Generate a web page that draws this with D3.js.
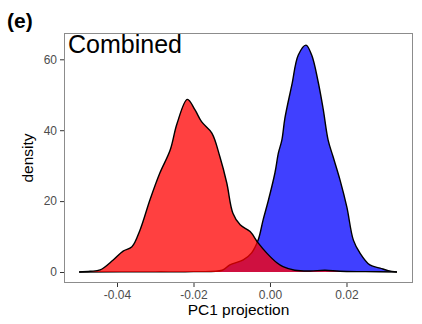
<!DOCTYPE html>
<html><head><meta charset="utf-8">
<script src="https://cdn.jsdelivr.net/npm/d3@7"></script>
<style>body{margin:0;background:#fff}svg{display:block}text{font-family:"Liberation Sans",Arial,sans-serif}</style>
</head><body>
<script>
const redX = [-0.0499,-0.047,-0.0444,-0.041,-0.0384,-0.0361,-0.034,-0.0314,-0.0288,-0.0261,-0.0243,-0.0216,-0.0196,-0.0179,-0.0152,-0.0131,-0.0113,-0.0097,-0.0078,-0.0052,-0.0031,-0.0009,0.0018,0.0034,0.0065,0.0105,0.0144,0.0183,0.025,0.0332];
const redY = [0,0.2,0.6,3.4,5.9,7.1,11.8,20.3,27.9,34.4,41.9,48.7,45.7,42.4,39.2,32.5,25.1,16.6,13.3,11.4,8.2,5.4,2.6,1.5,0.5,0.3,0.5,0.2,0.1,0];
const blueX = [-0.0499,-0.03,-0.02,-0.0125,-0.0105,-0.007,-0.0048,-0.0031,-0.0018,-0.0004,0.0013,0.0022,0.0031,0.0039,0.0057,0.0074,0.0094,0.0109,0.0126,0.0139,0.0152,0.0165,0.0183,0.0201,0.0218,0.0235,0.0261,0.0288,0.0309,0.0332];
const blueY = [0,0.05,0.1,0.5,2,3.4,5.4,9.0,14.7,20.3,28.0,33.6,37.2,43.4,52.7,61.2,64.0,61.2,53.6,46,37.2,32.5,26.0,18.3,9.0,5.4,2.0,1.1,0.4,0];
const xTicks = [-0.04,-0.02,0.00,0.02];
const xTickLabels = ["-0.04","-0.02","0.00","0.02"];
const yTicks = [0,20,40,60];
const yTickLabels = ["0","20","40","60"];

const W = 422, H = 324;
const pL = 64, pR = 413, pT = 33, pB = 283;
const x = d3.scaleLinear().domain([-0.05386, 0.03739]).range([pL, pR]);
const y = d3.scaleLinear().domain([-3.10, 67.42]).range([pB, pT]);

const svg = d3.select("body").append("svg").attr("width", W).attr("height", H);
svg.append("rect").attr("width", W).attr("height", H).attr("fill", "#fff");

function draw(xs, ys, color) {
  const pts = xs.map((v, i) => [v, ys[i]]);
  const area = d3.area().x(d => x(d[0])).y0(y(0)).y1(d => y(d[1])).curve(d3.curveCatmullRom.alpha(0.5));
  const line = d3.line().x(d => x(d[0])).y(d => y(d[1])).curve(d3.curveCatmullRom.alpha(0.5));
  svg.append("path").attr("d", area(pts)).attr("fill", color).attr("fill-opacity", 0.75);
  svg.append("path").attr("d", line(pts)).attr("fill", "none").attr("stroke", "#000").attr("stroke-width", 1.4);
}
draw(blueX, blueY, "#0000ff");
draw(redX, redY, "#ff0000");

svg.append("rect").attr("x", pL + 0.5).attr("y", pT + 0.5).attr("width", pR - pL - 1).attr("height", pB - pT - 1)
  .attr("fill", "none").attr("stroke", "#8c8c8c").attr("stroke-width", 1);

const xAxis = d3.axisBottom(x).tickValues(xTicks).tickFormat((d, i) => xTickLabels[i]).tickSize(4).tickPadding(3);
const gx = svg.append("g").attr("transform", `translate(0,${pB})`).call(xAxis);
gx.select(".domain").remove();
gx.selectAll("line").attr("stroke", "#333");
gx.selectAll("text").attr("fill", "#4d4d4d").style("font-size", "12px").style("font-family", "Liberation Sans, Arial, sans-serif");

const yAxis = d3.axisLeft(y).tickValues(yTicks).tickFormat((d, i) => yTickLabels[i]).tickSize(4).tickPadding(3);
const gy = svg.append("g").attr("transform", `translate(${pL},0)`).call(yAxis);
gy.select(".domain").remove();
gy.selectAll("line").attr("stroke", "#333");
gy.selectAll("text").attr("fill", "#4d4d4d").style("font-size", "12px").style("font-family", "Liberation Sans, Arial, sans-serif");

svg.append("text").attr("x", (pL + pR) / 2).attr("y", 315).attr("text-anchor", "middle")
  .style("font-size", "15.5px").attr("fill", "#000").text("PC1 projection");
svg.append("text").attr("transform", `translate(33,${(pT + pB) / 2}) rotate(-90)`).attr("text-anchor", "middle")
  .style("font-size", "15.5px").attr("fill", "#000").text("density");
svg.append("text").attr("x", 68).attr("y", 53).style("font-size", "25px").attr("fill", "#000").text("Combined");
svg.append("text").attr("x", 7).attr("y", 28).style("font-size", "21px").style("font-weight", "bold").attr("fill", "#000").text("(e)");
</script>
</body></html>
